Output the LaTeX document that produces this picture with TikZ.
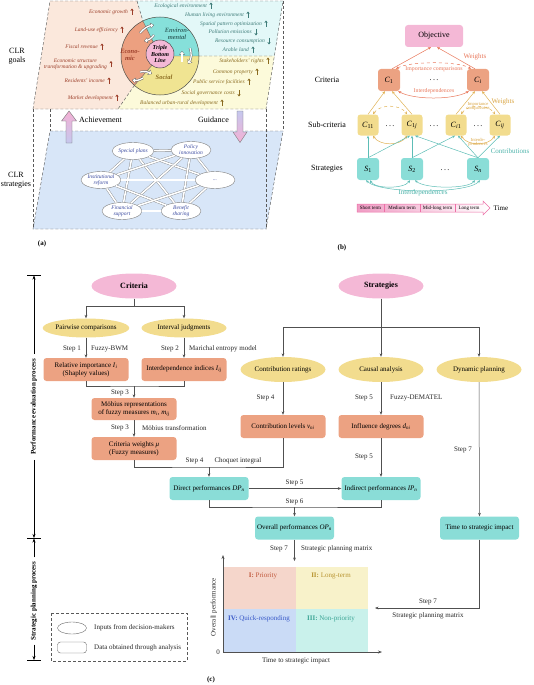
\documentclass[tikz,border=0pt]{standalone}
\usepackage{fontspec}
\setmainfont{Liberation Serif}
\usetikzlibrary{arrows.meta,shapes.geometric,calc}
\definecolor{pinkF}{HTML}{F4B8D6}
\definecolor{yelF}{HTML}{F2DC8E}
\definecolor{salF}{HTML}{ECA282}
\definecolor{tealF}{HTML}{8ADDD7}
\definecolor{lineC}{HTML}{505050}
\definecolor{peachBG}{HTML}{FBE8DC}
\definecolor{cyanBG}{HTML}{E3F8F8}
\definecolor{yelBG}{HTML}{FCFADA}
\definecolor{blueBG}{HTML}{D8E6F8}
\definecolor{econT}{HTML}{9C3F2A}
\definecolor{envT}{HTML}{3F7C79}
\definecolor{socT}{HTML}{8A6A1F}
\definecolor{envF}{HTML}{86E0DA}
\definecolor{socF}{HTML}{F0E492}
\definecolor{econF}{HTML}{ECA080}
\definecolor{stratT}{HTML}{3A4AA0}
\definecolor{salL}{HTML}{E8775A}
\definecolor{golL}{HTML}{E0B256}
\definecolor{golT}{HTML}{D9A441}
\definecolor{tealL}{HTML}{5DBDB6}
\definecolor{tealT}{HTML}{4DB3AA}
\definecolor{timeP}{HTML}{EC6FA6}
\definecolor{timeL}{HTML}{F09CC4}
\definecolor{achT}{HTML}{F4B0D4}
\definecolor{achB}{HTML}{C5C8EE}
\definecolor{qA}{HTML}{F5D6CB}
\definecolor{qB}{HTML}{F8F2CA}
\definecolor{qC}{HTML}{C9F1EB}
\definecolor{qD}{HTML}{CADBF6}
\definecolor{qAT}{HTML}{C0583C}
\definecolor{qBT}{HTML}{B89430}
\definecolor{qCT}{HTML}{3BA595}
\definecolor{qDT}{HTML}{3858C8}
\newcommand{\holarrow}[1]{\draw[holO] #1; \draw[holI] #1;}
\begin{document}
\begin{tikzpicture}[x=1pt,y=-1pt,
  dsh/.style={draw=black!65, line width=0.45pt, dash pattern=on 3pt off 2pt},
  itm/.style={font=\fontsize{5.5}{6.3}\selectfont\itshape, anchor=east, inner sep=0pt, align=center},
  arE/.style={draw=econT, line width=0.75pt, -{Stealth[length=2.4pt,width=3.2pt]}},
  arV/.style={draw=envT, line width=0.75pt, -{Stealth[length=2.4pt,width=3.2pt]}},
  arS/.style={draw=socT, line width=0.75pt, -{Stealth[length=2.4pt,width=3.2pt]}},
  seg/.style={font=\fontsize{6.5}{6.8}\selectfont\bfseries\itshape, align=center, inner sep=0pt},
  holO/.style={draw=black!60, line width=2.3pt, -{Triangle[length=3.6pt,width=5.6pt]}},
  holI/.style={draw=white, line width=1.3pt, shorten >=0.7pt, -{Triangle[length=2.4pt,width=4pt]}},
  sEl/.style={ellipse, draw=black!50, fill=white, line width=0.4pt, minimum width=40, minimum height=17, inner sep=0pt, font=\fontsize{5.5}{6}\selectfont\itshape, text=stratT, align=center},
  dbl/.style={draw=black!50, line width=0.35pt, double=white, double distance=1.6pt},
  lbl/.style={font=\fontsize{8}{9}\selectfont, align=center, inner sep=0pt},
  bx/.style={rectangle, rounded corners=3pt, minimum width=22, minimum height=22, inner sep=0pt, font=\fontsize{8}{9}\selectfont},
  tipB/.style={-{Stealth[length=3pt,width=2.6pt]}},
  tipBB/.style={{Stealth[length=3pt,width=2.6pt]}-{Stealth[length=3pt,width=2.6pt]}},
  pE/.style={ellipse, fill=pinkF, minimum width=85, minimum height=25, inner sep=0pt, font=\fontsize{8}{9}\selectfont\bfseries},
  yE/.style={ellipse, fill=yelF, minimum width=85, minimum height=19, inner sep=0pt, font=\fontsize{7}{8}\selectfont},
  sB/.style={rectangle, rounded corners=3pt, fill=salF, minimum width=85, minimum height=23, inner sep=1pt, font=\fontsize{7}{8}\selectfont, align=center},
  tB/.style={rectangle, rounded corners=3pt, fill=tealF, minimum width=79, minimum height=23, inner sep=1pt, font=\fontsize{7}{8}\selectfont, align=center},
  ln/.style={draw=lineC, line width=0.5pt},
  lnA/.style={draw=lineC, line width=0.5pt, -{Stealth[length=3.5pt,width=2.8pt]}},
  stp/.style={font=\fontsize{7}{8}\selectfont, inner sep=0pt, text=black!85},
  capt/.style={font=\fontsize{7}{8}\selectfont\bfseries, inner sep=0pt}
]
\useasboundingbox (0,0) rectangle (534,685);

%% ================= Panel (a) =================
\fill[peachBG] (50,1)--(137,1)--(142.9,21)--(160,56)--(134.4,85.4)--(118,109)--(33,109)--cycle;
\fill[cyanBG] (137,1)--(283,1)--(274.5,56)--(160,56)--(142.9,21)--cycle;
\fill[yelBG] (274.5,56)--(266,109)--(118,109)--(134.4,85.4)--(160,56)--cycle;
\fill[blueBG] (50,131)--(283,131)--(266,229)--(33,229)--cycle;
\draw[dsh] (50,1)--(283,1)--(266,109)--(33,109)--cycle;
\draw[dsh] (137,1)--(142.9,21) (134.4,85.4)--(118,109) (199,56)--(274.5,56);
\draw[dsh] (50,131)--(283,131)--(266,229)--(33,229)--cycle;
\draw[dsh] (33,109)--(33,229) (266,109)--(266,229) (50,109)--(50,131) (283,1)--(283,131);

% triple bottom line circle
\begin{scope}
\clip (160,56) circle[radius=39];
\fill[socF] (100,0) rectangle (220,110);
\fill[envF] (160,56)--(230,56)--(230,-30)--(124.9,-15.9)--cycle;
\fill[econF] (160,56)--(124.9,-15.9)--(80,-20)--(80,120)--(107.5,116.4)--cycle;
\end{scope}
\draw[black!70, line width=0.5pt] (160,56) circle[radius=39];
\draw[black!60, line width=0.4pt] (160,56)--(199,56) (160,56)--(142.9,21) (160,56)--(134.4,85.4);
\node[circle, fill=pinkF, draw=black!70, line width=0.5pt, minimum size=28, inner sep=0pt, align=center, font=\fontsize{6}{6.4}\selectfont\bfseries\itshape] (tbl) at (160,54) {Triple\\Bottom\\Line};
\node[seg, text=econT] (lecon) at (130,55) {Econo-\\mic};
\node[seg, text=envT!85!black] (lenv) at (177,34) {Environ-\\mental};
\node[seg, text=socT] (lsoc) at (164,77) {Social};
\holarrow{(140,33) to[bend left=20] (154,25)}
\holarrow{(154,35) to[bend left=20] (144,41)}
\holarrow{(182,62) -- (182,51)}
\holarrow{(190,48) to[bend left=25] (188,64)}
\holarrow{(143,78) to[bend left=20] (132,80)}
\holarrow{(140,72) to[bend left=20] (152,74)}

% economic items
\foreach \t/\ax/\y [count=\k] in {Economic growth/132/12, Land-use efficiency/122/30, Fiscal revenue/102/47, Residents' income/109/81, Market development/117/98}{
  \node[itm, text=econT] (eco\k) at (\ax-4,\y) {\t};
  \draw[arE] (\ax,\y+3) -- (\ax,\y-3.5);
}
\node[itm, text=econT] (eco6) at (107,64.5) {Economic structure\\transformation \& upgrading};
\draw[arE] (111,67.5) -- (111,61);
% environmental items
\foreach \t/\ax/\y/\d [count=\k] in {Ecological environment/211/6/1, Human living environment/248/15/1, Spatial pattern optimization/266/24/1, Pollution emissions/256/32/-1, Resource consumption/269/41/-1, Arable land/253/50/1}{
  \node[itm, text=envT] (env\k) at (\ax-4,\y) {\t};
  \draw[arV] (\ax,{\y+3*(\d)}) -- (\ax,{\y-3.5*(\d)});
}
% social items
\foreach \t/\ax/\y/\d [count=\k] in {Stakeholders' rights/268/61/1, Common property/257/72/1, Public service facilities/249/82/1, Social governance costs/239/93/-1, Balanced urban-rural development/222/103/1}{
  \node[itm, text=socT] (soc\k) at (\ax-4,\y) {\t};
  \draw[arS] (\ax,{\y+3*(\d)}) -- (\ax,{\y-3.5*(\d)});
}

% middle arrows
\shadedraw[top color=achT, bottom color=achB, draw=black!55, line width=0.4pt]
  (66,143)--(66,121)--(61.5,121)--(69,111)--(76.5,121)--(72,121)--(72,143)--cycle;
\shadedraw[top color=achB, bottom color=achT, draw=black!55, line width=0.4pt]
  (237,111)--(243,111)--(243,132)--(247,132)--(240,142.5)--(233,132)--(237,132)--cycle;
\node[lbl, anchor=west] (ach) at (79,120) {Achievement};
\node[lbl, anchor=east] (gui) at (229,120) {Guidance};
\node[lbl] (clrg) at (17,56) {CLR\\goals};
\node[lbl] (clrs) at (16,180) {CLR\\strategies};

% strategy network
\node[sEl] (sp) at (133,151) {Special plans};
\node[sEl] (pi) at (191,150) {Policy\\innovation};
\node[sEl] (ir) at (101,180) {Institutional\\reform};
\node[sEl] (dd) at (215,180) {...};
\node[sEl] (fs) at (122,211) {Financial\\support};
\node[sEl] (bs) at (181,211) {Benefit\\sharing};
\foreach \a/\b in {sp/pi, sp/ir, sp/dd, sp/fs, sp/bs, pi/ir, pi/dd, pi/fs, pi/bs, ir/dd, ir/fs, ir/bs, dd/fs, dd/bs, fs/bs}
  \draw[dbl] (\a) -- (\b);
\node[capt] (capa) at (42,244) {(a)};

%% ================= Panel (b) =================
\node[bx, fill=pinkF, minimum width=58] (obj) at (434,36) {Objective};
\node[bx, fill=salF] (c1) at (389,80) {\textit{C}\textsubscript{1}};
\node[bx, fill=salF] (ci) at (478,80) {\textit{C}\textsubscript{\textit{i}}};
\node[lbl] (dotc) at (434,80) {.\,.\,.};
\node[bx, fill=yelF, minimum width=21, minimum height=21] (c11) at (368,125) {\textit{C}\textsubscript{11}};
\node[bx, fill=yelF, minimum width=21, minimum height=21] (c1j) at (412,125) {\textit{C}\textsubscript{1\textit{j}}};
\node[bx, fill=yelF, minimum width=21, minimum height=21] (ci1) at (456,125) {\textit{C}\textsubscript{\textit{i}1}};
\node[bx, fill=yelF, minimum width=21, minimum height=21] (cij) at (500,125) {\textit{C}\textsubscript{\textit{ij}}};
\node[lbl] (dots1) at (390,126) {.\,.\,.};
\node[lbl] (dots2) at (434,126) {.\,.\,.};
\node[lbl] (dots3) at (478,126) {.\,.\,.};
\node[bx, fill=tealF] (s1) at (368,169) {\textit{S}\textsubscript{1}};
\node[bx, fill=tealF] (s2) at (412,169) {\textit{S}\textsubscript{2}};
\node[bx, fill=tealF] (sn) at (478,169) {\textit{S}\textsubscript{\textit{n}}};
\node[lbl] (dots4) at (445,170) {.\,.\,.};
\node[lbl] (lcrit) at (327,80) {Criteria};
\node[lbl] (lsub) at (327,125) {Sub-criteria};
\node[lbl] (lstr) at (327,169) {Strategies};

% criteria -> objective
\draw[salL, line width=0.5pt, tipB] ($(c1.north)+(3,0)$) -- ($(obj.south)+(-3,0)$);
\draw[salL, line width=0.5pt, tipB] ($(ci.north)+(-3,0)$) -- ($(obj.south)+(3,0)$);
\draw[salL, line width=0.5pt, dashed, tipBB] ($(c1.north)+(7,0)$) .. controls (410,61) and (458,61) .. ($(ci.north)+(-7,0)$);
\draw[salL, line width=0.5pt, tipBB] ($(c1.south east)+(-2,0)$) .. controls (414,100) and (453,100) .. ($(ci.south west)+(2,0)$);
\node[font=\fontsize{5.8}{6}\selectfont, text=salL, inner sep=0pt] (limp) at (434,69.5) {Importance comparisons};
\node[font=\fontsize{5.8}{6}\selectfont, text=salL, inner sep=0pt] (lint) at (434,91.5) {Interdependences};
\node[font=\fontsize{7}{8}\selectfont, text=salL, inner sep=0pt] (lw1) at (475,57) {Weights};

% sub-criteria -> criteria
\draw[golL, line width=0.5pt, tipB] (c11.north) -- ($(c1.south)+(-4,0)$);
\draw[golL, line width=0.5pt, tipB] (c1j.north) -- ($(c1.south)+(3,0)$);
\draw[golL, line width=0.5pt, tipB] (ci1.north) -- ($(ci.south)+(-3,0)$);
\draw[golL, line width=0.5pt, tipB] (cij.north) -- ($(ci.south)+(4,0)$);
\draw[golL, line width=0.5pt, dashed, tipBB] ($(c11.north)+(5,0)$) .. controls (380,104) and (400,104) .. ($(c1j.north)+(-5,0)$);
\draw[golL, line width=0.5pt, dashed, tipBB] ($(ci1.north)+(5,0)$) .. controls (468,104) and (488,104) .. ($(cij.north)+(-5,0)$);
\draw[golL, line width=0.5pt, tipBB] ($(c11.south)+(5,0)$) .. controls (380,146) and (400,146) .. ($(c1j.south)+(-5,0)$);
\draw[golL, line width=0.5pt, tipBB] ($(ci1.south)+(5,0)$) .. controls (468,146) and (488,146) .. ($(cij.south)+(-5,0)$);
\node[font=\fontsize{4.6}{4.6}\selectfont, text=golT, inner sep=0pt, align=center] (limp2) at (478,106.5) {Importance\\comparisons};
\node[font=\fontsize{4.6}{4.6}\selectfont, text=golT, inner sep=0pt, align=center] (lint2) at (478,142.5) {Interde-\\pendences};
\node[font=\fontsize{7}{8}\selectfont, text=golT, inner sep=0pt] (lw2) at (503,102) {Weights};

% strategies -> sub-criteria
\draw[tealL, line width=0.5pt, tipB] (s1.north) -- (c11.south);
\draw[tealL, line width=0.5pt, tipB] (s1.north) -- ($(c1j.south)+(-2,0)$);
\draw[tealL, line width=0.5pt, tipB] (s2.north) -- (c1j.south);
\draw[tealL, line width=0.5pt, tipB] (s2.north) -- ($(ci1.south)+(-1,0)$);
\draw[tealL, line width=0.5pt, tipB] (sn.north) -- ($(c1j.south)+(3,0)$);
\draw[tealL, line width=0.5pt, tipB] (sn.north) -- ($(ci1.south)+(2,0)$);
\draw[tealL, line width=0.5pt, tipB] (sn.north) -- (cij.south);
\node[font=\fontsize{7}{8}\selectfont, text=tealT, inner sep=0pt] (lcon) at (510,151) {Contributions};
\draw[tealL, line width=0.5pt, tipBB] ($(s1.south)+(2,0)$) .. controls (375,189) and (404,189) .. ($(s2.south)+(-2,0)$);
\draw[tealL, line width=0.5pt, tipBB] ($(s2.south)+(3,0)$) .. controls (425,189) and (468,189) .. ($(sn.south)+(-3,0)$);
\draw[tealL, line width=0.5pt, tipBB] ($(s1.south)+(-2,0)$) .. controls (380,194) and (468,194) .. ($(sn.south)+(2,0)$);
\node[font=\fontsize{7}{8}\selectfont, text=tealT, inner sep=0pt] (lint3) at (423,193) {Interdependences};

% time bar
\shadedraw[left color=timeL, right color=white, draw=timeP, line width=0.5pt]
  (357,204)--(483,204)--(483,201)--(490,208)--(483,215)--(483,212)--(357,212)--cycle;
\draw[timeP, line width=0.5pt] (384,204)--(384,212) (420,204)--(420,212) (455,204)--(455,212);
\node[font=\fontsize{5}{5}\selectfont, inner sep=0pt] (t1) at (370.5,208) {Short term};
\node[font=\fontsize{5}{5}\selectfont, inner sep=0pt] (t2) at (402,208) {Medium term};
\node[font=\fontsize{5}{5}\selectfont, inner sep=0pt] (t3) at (437.5,208) {Mid-long term};
\node[font=\fontsize{5}{5}\selectfont, inner sep=0pt] (t4) at (469,208) {Long term};
\node[font=\fontsize{7}{8}\selectfont, inner sep=0pt] (ttime) at (501,208) {Time};
\node[capt] (capb) at (342,248) {(b)};

%% ================= Panel (c) =================
\node[pE] (crit) at (134,286) {Criteria};
\node[pE] (strat) at (381,286) {Strategies};
\node[yE] (pw) at (86,328) {Pairwise comparisons};
\node[yE] (ij) at (184,328) {Interval judgments};
\node[sB] (ri) at (86,369.5) {Relative importance \textit{I}\textsubscript{\textit{i}}\\(Shapley values)};
\node[sB] (ii) at (184,369.5) {Interdependence indices \textit{I}\textsubscript{\textit{ij}}};
\node[sB, minimum height=22] (mo) at (134,409) {Möbius representations\\of fuzzy measures \textit{m}\textsubscript{\textit{i}}, \textit{m}\textsubscript{\textit{ij}}};
\node[sB] (cw) at (134,448.5) {Criteria weights \textit{μ}\\(Fuzzy measures)};
\node[yE, minimum height=25] (cr) at (283,369.5) {Contribution ratings};
\node[yE, minimum height=25] (ca) at (381,369.5) {Causal analysis};
\node[yE, minimum height=25] (dp) at (479,369.5) {Dynamic planning};
\node[sB] (cl) at (283,426.5) {Contribution levels \textit{v}\textsubscript{\textit{ni}}};
\node[sB] (id) at (381,426.5) {Influence degrees \textit{d}\textsubscript{\textit{ni}}};
\node[tB] (dperf) at (209,488.5) {Direct performances \textit{DP}\textsubscript{\textit{n}}};
\node[tB] (iperf) at (381,488.5) {Indirect performances \textit{IP}\textsubscript{\textit{n}}};
\node[tB] (op) at (294.5,528) {Overall performances \textit{OP}\textsubscript{\textit{n}}};
\node[tB] (tsi) at (479.5,528) {Time to strategic impact};

\coordinate (jc) at (134,306);
\draw[ln] (crit.south) -- (jc);
\draw[lnA] (jc) -| (pw.north);
\draw[lnA] (jc) -| (ij.north);
\draw[lnA] (pw.south) -- (ri.north);
\draw[lnA] (ij.south) -- (ii.north);
\node[stp, anchor=east] (st1) at (81,349) {Step 1};
\node[stp, anchor=west] (fb) at (91,349) {Fuzzy-BWM};
\node[stp, anchor=east] (st2) at (179,349) {Step 2};
\node[stp, anchor=west] (me) at (189,349) {Marichal entropy model};
\coordinate (j3) at (134,386);
\draw[ln] (ri.south) |- (j3) -| (ii.south);
\draw[lnA] (j3) -- (mo.north);
\node[stp, anchor=east] (st3) at (129,392.5) {Step 3};
\draw[lnA] (mo.south) -- (cw.north);
\node[stp, anchor=east] (st3b) at (129,428) {Step 3};
\node[stp, anchor=west] (mt) at (142,428) {Möbius transformation};
\coordinate (j4) at (209,467);
\draw[ln] (cw.south) |- (j4) -| (cl.south);
\draw[lnA] (j4) -- (dperf.north);
\node[stp] (st4) at (194.5,461) {Step 4};
\node[stp] (chq) at (238,461) {Choquet integral};

\coordinate (js) at (381,327);
\draw[lnA] (strat.south) -- (ca.north);
\draw[lnA] (js) -| (cr.north);
\draw[lnA] (js) -| (dp.north);
\draw[lnA] (cr.south) -- (cl.north);
\node[stp, anchor=east] (st4b) at (274.5,398) {Step 4};
\draw[lnA] (ca.south) -- (id.north);
\node[stp, anchor=east] (st5) at (373,398) {Step 5};
\node[stp, anchor=west] (fd) at (390,398) {Fuzzy-DEMATEL};
\draw[lnA] (id.south) -- (iperf.north);
\node[stp, anchor=east] (st5b) at (373,457) {Step 5};
\draw[lnA] (dperf.east) -- (iperf.west);
\node[stp] (st5c) at (294.5,482.5) {Step 5};
\coordinate (j6) at (294.5,507);
\draw[ln] (dperf.south) |- (j6) -| (iperf.south);
\draw[lnA] (j6) -- (op.north);
\node[stp] (st6) at (294.5,502) {Step 6};
\draw[lnA] (dp.south) -- (tsi.north);
\node[stp, anchor=east] (st7a) at (472,450) {Step 7};

% matrix
\fill[qA] (223,567) rectangle (296,609);
\fill[qB] (296,567) rectangle (368,609);
\fill[qD] (223,609) rectangle (296,652);
\fill[qC] (296,609) rectangle (368,652);
\coordinate (org) at (223,652);
\coordinate (ytop) at (223,555);
\coordinate (xend) at (382,652);
\draw[lineC, line width=0.6pt, -{Stealth[length=4pt,width=3pt]}] (org) -- (ytop);
\draw[lineC, line width=0.6pt, -{Stealth[length=4pt,width=3pt]}] (org) -- (xend);
\node[stp, text=qAT] (qa) at (263,576) {\textbf{I:} Priority};
\node[stp, text=qBT] (qb) at (331,576) {\textbf{II:} Long-term};
\node[stp, text=qDT] (qd) at (259,619) {\textbf{IV:} Quick-responding};
\node[stp, text=qCT] (qc) at (331,619) {\textbf{III:} Non-priority};
\node[stp, anchor=east] (zero) at (220,652) {0};
\node[stp, rotate=90] (yl) at (214,607) {Overall performance};
\node[stp] (xl) at (296,660.5) {Time to strategic impact};
\coordinate (mtop) at (294.5,561);
\draw[lnA] (op.south) -- (mtop);
\node[stp, anchor=east] (st7b) at (288,549) {Step 7};
\node[stp, anchor=west] (spm1) at (301,549) {Strategic planning matrix};
\coordinate (mright) at (375,608);
\draw[lnA] (tsi.south) |- (mright);
\node[stp] (st7c) at (428,602) {Step 7};
\node[stp] (spm2) at (428,616) {Strategic planning matrix};

% left process axis
\node[font=\fontsize{7}{8}\selectfont\bfseries, rotate=90, inner sep=5pt] (pep) at (34,407) {Performance evaluation process};
\node[font=\fontsize{7}{8}\selectfont\bfseries, rotate=90, inner sep=4pt] (spp) at (34,601) {Strategic planning process};
\draw[black, line width=0.5pt, -{Stealth[length=4pt,width=3pt]}] (pep.east) -- (34,275.5);
\draw[black, line width=0.5pt, -{Stealth[length=4pt,width=3pt]}] (pep.west) -- (34,538);
\draw[black, line width=0.5pt, -{Stealth[length=4pt,width=3pt]}] (spp.east) -- (34,538.5);
\draw[black, line width=0.5pt, -{Stealth[length=4pt,width=3pt]}] (spp.west) -- (34,660);
\draw[black, line width=0.6pt] (27,275)--(41,275) (27,538)--(41,538) (27,660.5)--(41,660.5);

% legend
\draw[dsh] (51,613) rectangle (187,661);
\node[ellipse, draw=black!60, fill=white, line width=0.4pt, minimum width=29, minimum height=12, inner sep=0pt] (legE) at (72,628) {};
\node[rectangle, rounded corners=3pt, draw=black!60, fill=white, line width=0.4pt, minimum width=29, minimum height=11, inner sep=0pt] (legR) at (72,647.5) {};
\node[stp, anchor=west] (legEt) at (94,628) {Inputs from decision-makers};
\node[stp, anchor=west] (legRt) at (94,647.5) {Data obtained through analysis};
\node[capt] (capc) at (211,680) {(c)};
\end{tikzpicture}
\end{document}
